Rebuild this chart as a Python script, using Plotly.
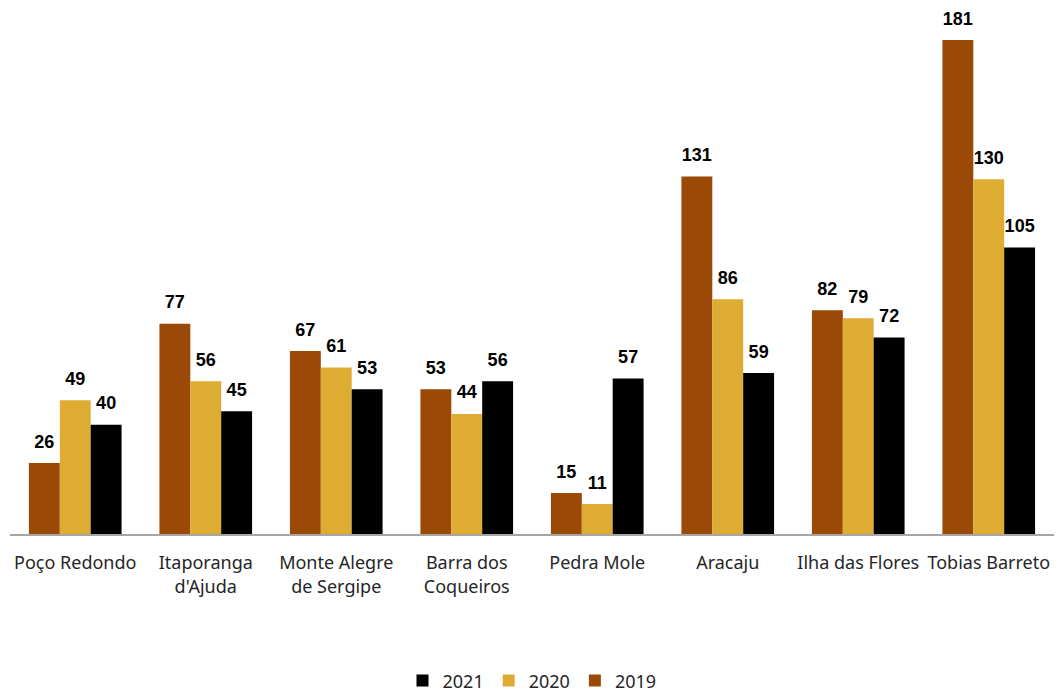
import plotly.graph_objects as go

categories = ["Poço Redondo", "Itaporanga<br>d'Ajuda", "Monte Alegre<br>de Sergipe", "Barra dos<br>Coqueiros",
              "Pedra Mole", "Aracaju", "Ilha das Flores", "Tobias Barreto"]
v2019 = [26, 77, 67, 53, 15, 131, 82, 181]
v2020 = [49, 56, 61, 44, 11, 86, 79, 130]
v2021 = [40, 45, 53, 56, 57, 59, 72, 105]

series = [("2019", v2019, "#9A4A06"), ("2020", v2020, "#DEAB33"), ("2021", v2021, "#000000")]

fig = go.Figure()
for name, vals, color in series:
    fig.add_trace(go.Bar(
        x=categories, y=vals, name=name, marker_color=color,
        marker_line_width=0,
        text=[f"<span style='font-size:18px'><b>{v}</b></span><br> " for v in vals],
        textposition="outside", cliponaxis=False,
        textfont=dict(family="Liberation Sans, Arial", size=8, color="#000000"),
    ))

fig.update_layout(
    width=1062, height=694,
    margin=dict(l=10, r=8, t=20, b=160, autoexpand=False),
    paper_bgcolor="white", plot_bgcolor="white",
    barmode="group", bargap=0.29, bargroupgap=0,
    font=dict(family="Noto Sans, Liberation Sans", color="#262626"),
    showlegend=True,
    legend=dict(orientation="h", x=0.5, xanchor="center", y=0.019, yanchor="middle",
                yref="container",
                traceorder="reversed", font=dict(size=18, color="#262626"), itemwidth=30),
    uniformtext=dict(mode=False),
)
fig.update_xaxes(showline=True, linecolor="#A6A6A6", linewidth=1.5, ticks="",
                 ticklabelstandoff=12, automargin=False,
                 tickfont=dict(size=18, color="#262626"), showgrid=False)
fig.update_yaxes(range=[0, 188.3], visible=False, showgrid=False)

fig.write_html("out.html")
